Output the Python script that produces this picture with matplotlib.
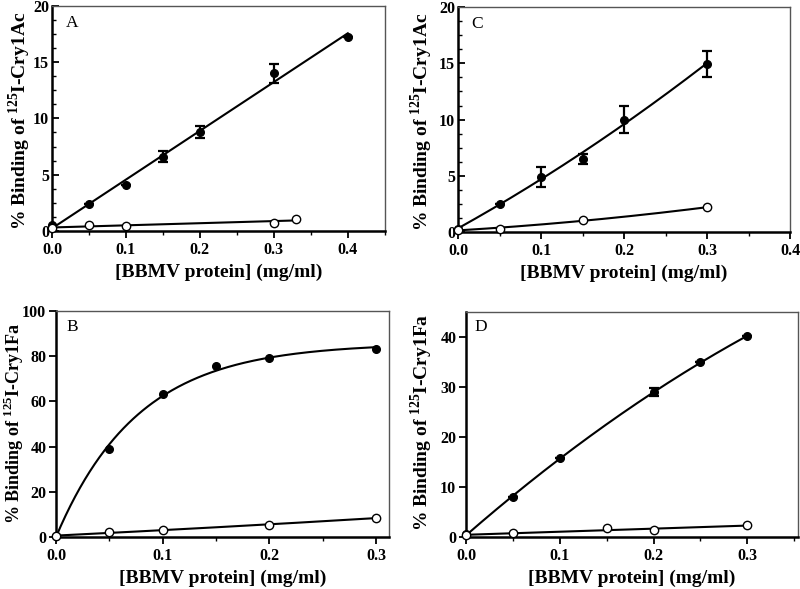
import numpy as np
import matplotlib
matplotlib.use('Agg')
import matplotlib.pyplot as plt
from matplotlib.ticker import MultipleLocator

plt.rcParams['font.family'] = ['Liberation Serif', 'DejaVu Serif']
plt.rcParams['mathtext.fontset'] = 'custom'
plt.rcParams['mathtext.rm'] = 'Liberation Serif:bold'
plt.rcParams['mathtext.bf'] = 'Liberation Serif:bold'

# Panel A: 125I-Cry1Ac
a_x = [0, 0.05, 0.1, 0.15, 0.2, 0.3, 0.4]
a_y = [0.5, 2.4, 4.1, 6.6, 8.8, 14.0, 17.2]
a_err = [0, 0, 0, 0.5, 0.55, 0.85, 0]
a_open_x = [0, 0.05, 0.1, 0.3, 0.33]
a_open_y = [0.3, 0.5, 0.4, 0.7, 1.1]

# Panel C: 125I-Cry1Ac
c_x = [0, 0.05, 0.1, 0.15, 0.2, 0.3]
c_y = [0.3, 2.5, 4.9, 6.5, 10.0, 14.95]
c_err = [0, 0, 0.9, 0.45, 1.2, 1.15]
c_open_x = [0, 0.05, 0.15, 0.3]
c_open_y = [0.2, 0.3, 1.05, 2.2]

# Panel B: 125I-Cry1Fa
b_x = [0, 0.05, 0.1, 0.15, 0.2, 0.3]
b_y = [0.5, 38.8, 63.2, 75.5, 79.0, 82.9]
b_open_x = [0, 0.05, 0.1, 0.2, 0.3]
b_open_y = [0.5, 2.0, 3.0, 5.5, 8.4]

# Panel D: 125I-Cry1Fa
d_x = [0, 0.05, 0.1, 0.2, 0.25, 0.3]
d_y = [0.5, 7.9, 15.8, 29.0, 34.9, 40.2]
d_err = [0, 0, 0, 0.75, 0, 0]
d_open_x = [0, 0.05, 0.15, 0.2, 0.3]
d_open_y = [0.3, 0.8, 1.8, 1.3, 2.3]

xlabel = '[BBMV protein] (mg/ml)'
ylabel_ac = '% Binding of $^{125}$I-Cry1Ac'
ylabel_fa = '% Binding of $^{125}$I-Cry1Fa'

fig = plt.figure(figsize=(8, 5.89), dpi=100)


def fit_line(ax, x, y, deg):
    x = np.asarray(x, float)
    y = np.asarray(y, float)
    xs = np.linspace(0, x.max(), 200)
    if deg == 'sat':
        # one-site saturation: y = A * (1 - exp(-k x)), grid search on k
        best = None
        for k in np.linspace(1, 40, 400):
            g = 1 - np.exp(-k * x)
            A = np.dot(g, y) / np.dot(g, g)
            r = np.sum((A * g - y) ** 2)
            if best is None or r < best[0]:
                best = (r, A, k)
        ys = best[1] * (1 - np.exp(-best[2] * xs))
    else:
        ys = np.polyval(np.polyfit(x, y, deg), xs)
    ax.plot(xs, ys, color='black', lw=1.5, zorder=2)


def panel(rect, letter, letter_pos, ylab_pos, ylab_size, fx, fy, ferr, ox, oy,
          deg_f, deg_o, xlim, xmajor, ylim, ymajor, yminor, ytick_dir, ylabel):
    ax = fig.add_axes(rect)
    fit_line(ax, fx, fy, deg_f)
    fit_line(ax, ox, oy, deg_o)
    if ferr is not None:
        ax.errorbar(fx, fy, yerr=ferr, fmt='none', ecolor='black',
                    elinewidth=1.6, capsize=3.5, capthick=1.6, zorder=3)
    ax.plot(fx, fy, 'o', color='black', ms=5.5, zorder=4, clip_on=False)
    ax.plot(ox, oy, 'o', mfc='white', mec='black', mew=1.0, ms=6,
            zorder=4, clip_on=False)
    ax.set_xlim(*xlim)
    ax.set_ylim(*ylim)
    ax.xaxis.set_major_locator(MultipleLocator(xmajor))
    ax.xaxis.set_minor_locator(MultipleLocator(0.05))
    ax.yaxis.set_major_locator(MultipleLocator(ymajor))
    if yminor:
        ax.yaxis.set_minor_locator(MultipleLocator(yminor))
    ax.xaxis.set_major_formatter(plt.FuncFormatter(lambda v, p: f'{v:.1f}'))
    ax.yaxis.set_major_formatter(plt.FuncFormatter(lambda v, p: f'{v:.0f}'))
    ax.tick_params(axis='x', which='major', direction='out', length=5, width=1.3,
                   labelsize=11.5, pad=3)
    ax.tick_params(axis='x', which='minor', direction='out', length=3, width=1.0)
    ax.tick_params(axis='y', which='major', direction=ytick_dir, length=5, width=1.3,
                   labelsize=11.5, pad=2)
    ax.tick_params(axis='y', which='minor', direction=ytick_dir, length=3, width=1.0)
    for lab in ax.get_xticklabels() + ax.get_yticklabels():
        lab.set_fontweight('bold')
    for s in ['left', 'bottom']:
        ax.spines[s].set_linewidth(1.8)
        ax.spines[s].set_color('black')
    for s in ['top', 'right']:
        ax.spines[s].set_linewidth(1.0)
        ax.spines[s].set_color('#555555')
    ax.set_xlabel(xlabel, fontsize=14, fontweight='bold', labelpad=4)
    ax.set_ylabel(ylabel, fontsize=ylab_size, fontweight='bold', va='center')
    ax.yaxis.set_label_coords(*ylab_pos)
    ax.text(letter_pos[0], letter_pos[1], letter, transform=ax.transAxes,
            fontsize=12.5, ha='center', va='center')
    return ax


panel([0.065, 0.608, 0.416, 0.382], 'A', (0.06, 0.925), (-0.096, 0.49), 14,
      a_x, a_y, a_err, a_open_x, a_open_y, 1, 1,
      (0, 0.45), 0.1, (0, 20), 5, 1.25, 'in', ylabel_ac)

panel([0.5725, 0.606, 0.415, 0.382], 'C', (0.057, 0.925), (-0.108, 0.49), 14,
      c_x, c_y, c_err, c_open_x, c_open_y, 2, 2,
      (0, 0.4), 0.1, (0, 20), 5, 1.25, 'in', ylabel_ac)

panel([0.07, 0.0883, 0.416, 0.384], 'B', (0.05, 0.93), (-0.127, 0.5), 13,
      b_x, b_y, None, b_open_x, b_open_y, 'sat', 2,
      (0, 0.312), 0.1, (0, 100), 20, None, 'out', ylabel_fa)

panel([0.5825, 0.0883, 0.415, 0.382], 'D', (0.045, 0.935), (-0.133, 0.51), 14,
      d_x, d_y, d_err, d_open_x, d_open_y, 2, 1,
      (0, 0.354), 0.1, (0, 45), 10, None, 'out', ylabel_fa)

fig.savefig('out.png', dpi=100)
